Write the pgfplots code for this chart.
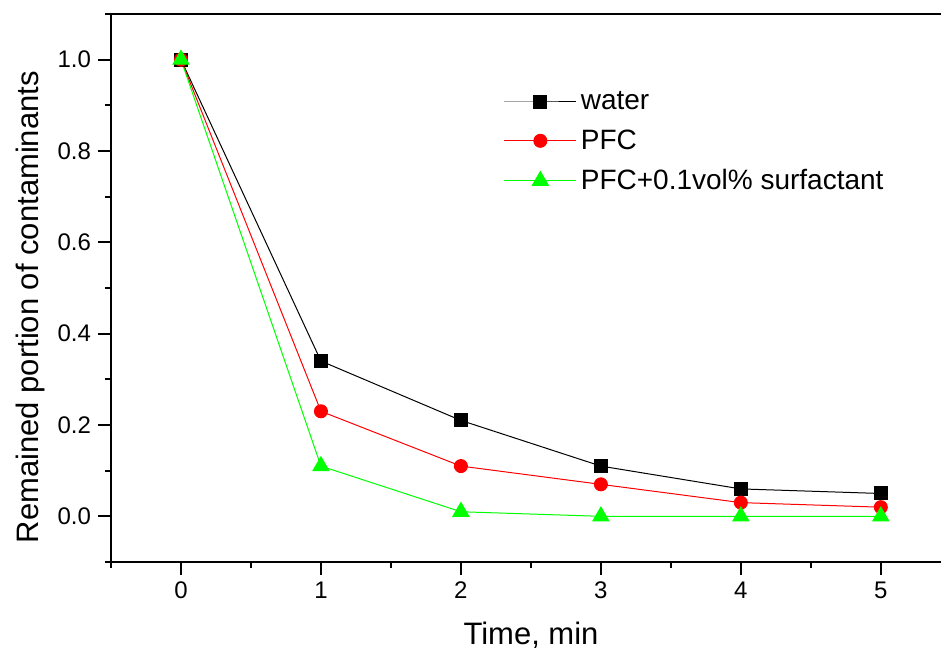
\documentclass[border=0pt]{standalone}
\usepackage{fontspec}
\setmainfont{Liberation Sans}
\usepackage{pgfplots}
\pgfplotsset{compat=1.18}
\begin{document}
\begin{tikzpicture}
\begin{axis}[
  scale only axis, width=415pt, height=274pt,
  xmin=-0.5, xmax=5.43, ymin=-0.1, ymax=1.1,
  separate axis lines,
  axis x line=box, axis y line*=left,
  xtick pos=bottom, ytick pos=left,
  xtick={0,1,2,3,4,5},
  minor xtick={-0.5,0.5,1.5,2.5,3.5,4.5},
  ytick={0,0.2,0.4,0.6,0.8,1.0},
  minor ytick={-0.1,0.1,0.3,0.5,0.7,0.9,1.1},
  tick align=outside,
  major tick length=6.5pt, minor tick length=3pt,
  every tick/.style={black, line width=1pt},
  axis line style={line width=1pt},
  /pgf/number format/assume math mode=true,
  yticklabel style={/pgf/number format/.cd, fixed, fixed zerofill, precision=1},
  tick label style={font=\fontsize{12}{14}\selectfont},
  legend style={at={(rel axis cs:0.468,0.874)}, anchor=north west, draw=none, fill=none,
    font=\fontsize{14}{17}\selectfont, row sep=4.5pt, inner sep=2pt},
  legend cell align=left,
  legend image code/.code={\draw[mark repeat=2,mark phase=2] plot coordinates {(0pt,0pt) (18pt,0pt) (36pt,0pt)};},
]
\addplot[black, line width=0.5pt, mark=square*, mark size=3.25pt, mark options={solid}]
  coordinates {(0,1.0) (1,0.34) (2,0.21) (3,0.11) (4,0.06) (5,0.05)};
\addlegendentry{water}
\addplot[red, line width=0.5pt, mark=*, mark size=3.25pt, mark options={solid}]
  coordinates {(0,1.0) (1,0.23) (2,0.11) (3,0.07) (4,0.03) (5,0.02)};
\addlegendentry{PFC}
\addplot[green, line width=0.5pt, mark=triangle*, mark size=4.6pt, mark options={solid}]
  coordinates {(0,1.0) (1,0.11) (2,0.01) (3,0.0) (4,0.0) (5,0.0)};
\addlegendentry{PFC+0.1vol\% surfactant}
\coordinate (bl) at (rel axis cs:0,0);
\coordinate (tr) at (rel axis cs:1,1);
\coordinate (yl) at (rel axis cs:0,0.465);
\coordinate (xl) at (rel axis cs:0.506,0);
\end{axis}
\node[rotate=90, anchor=base, font=\fontsize{15.5}{18}\selectfont] at ([xshift=-36.2pt]yl) {Remained portion of contaminants};
\node[anchor=base, font=\fontsize{15.5}{18}\selectfont] at ([yshift=-41.5pt]xl) {Time, min};
\pgfresetboundingbox
\path ([shift={(-55.5pt,-44pt)}]bl) rectangle ([shift={(0pt,7pt)}]tr);
\end{tikzpicture}
\end{document}
